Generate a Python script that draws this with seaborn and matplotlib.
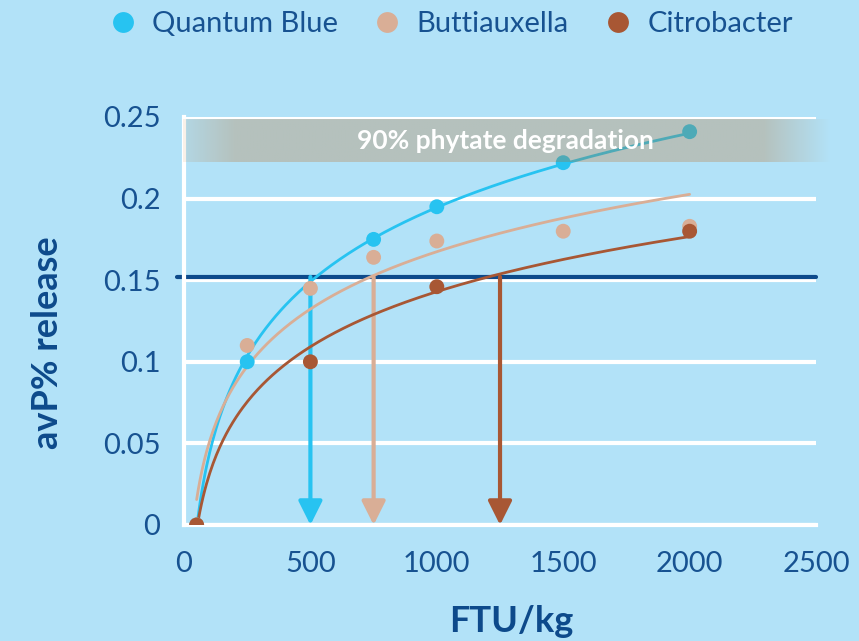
import numpy as np
import pandas as pd
import matplotlib
matplotlib.use('Agg')
import matplotlib.pyplot as plt
import seaborn as sns
from matplotlib.lines import Line2D

# ─── data ────────────────────────────────────────────────────────────────────
SERIES = ['Quantum Blue', 'Buttiauxella', 'Citrobacter']
QB_X = [50, 250, 750, 1000, 1500, 2000]
QB_Y = [0.0, 0.100, 0.175, 0.195, 0.222, 0.241]
BU_X = [50, 250, 500, 750, 1000, 1500, 2000]
BU_Y = [0.0, 0.110, 0.145, 0.164, 0.174, 0.180, 0.183]
CI_X = [50, 500, 1000, 2000]
CI_Y = [0.0, 0.100, 0.146, 0.180]
THRESHOLD = 0.152
CROSS_X = [500, 750, 1250]          # FTU/kg where each fit reaches the threshold
BAND_LO, BAND_HI = 0.2225, 0.2485
BAND_TEXT = '90% phytate degradation'
X_TICKS = [0, 500, 1000, 1500, 2000, 2500]
Y_TICKS = [0, 0.05, 0.1, 0.15, 0.2, 0.25]
Y_TICKLABELS = ['0', '0.05', '0.1', '0.15', '0.2', '0.25']

BG = '#b2e2f8'
DARK = '#0d4a8b'
TEXT = '#175291'
COLORS = {'Quantum Blue': '#27c3f1', 'Buttiauxella': '#d9ae96', 'Citrobacter': '#a85734'}

sns.set_theme(style='white')
plt.rcParams['font.family'] = ['Lato', 'DejaVu Sans']

points = pd.concat([
    pd.DataFrame({'x': QB_X, 'y': QB_Y, 'series': SERIES[0]}),
    pd.DataFrame({'x': BU_X, 'y': BU_Y, 'series': SERIES[1]}),
    pd.DataFrame({'x': CI_X, 'y': CI_Y, 'series': SERIES[2]}),
], ignore_index=True)

# logarithmic trend line per series
fits = []
for name, grp in points.groupby('series', sort=False):
    a, b = np.polyfit(np.log(grp['x']), grp['y'], 1)
    xs = np.linspace(grp['x'].min(), grp['x'].max(), 300)
    fits.append(pd.DataFrame({'x': xs, 'y': a * np.log(xs) + b, 'series': name}))
fits = pd.concat(fits, ignore_index=True)

fig = plt.figure(figsize=(8.59, 6.41), dpi=100, facecolor=BG)
ax = fig.add_axes([0.2142, 0.181, 0.7358, 0.6365])
ax.set_facecolor(BG)

sns.lineplot(data=fits, x='x', y='y', hue='series', palette=COLORS,
             linewidth=2, legend=False, ax=ax, zorder=3)
sns.scatterplot(data=points, x='x', y='y', hue='series', palette=COLORS,
                s=115, linewidth=0, legend=False, ax=ax, zorder=4)

ax.set_xlim(0, 2500)
ax.set_ylim(0, 0.25)
ax.set_xticks(X_TICKS)
ax.set_yticks(Y_TICKS)
ax.set_yticklabels(Y_TICKLABELS)
ax.grid(axis='y', color='white', linewidth=3, zorder=1)
ax.set_axisbelow(True)
for side in ['top', 'right']:
    ax.spines[side].set_visible(False)
for side in ['left', 'bottom']:
    ax.spines[side].set_color('white')
    ax.spines[side].set_linewidth(3)
ax.tick_params(axis='x', colors='white', length=9, width=3, pad=10,
               labelcolor=TEXT, labelsize=21)
ax.tick_params(axis='y', length=0, pad=17, labelcolor=TEXT, labelsize=21)

ax.set_xlabel('FTU/kg', fontsize=26, fontweight='bold', color=DARK)
ax.set_ylabel('avP% release', fontsize=26, fontweight='bold', color=DARK)
ax.xaxis.set_label_coords(0.517, -0.195)
ax.yaxis.set_label_coords(-0.19, 0.446)

# threshold line and drop arrows
ax.axhline(THRESHOLD, xmin=-0.011, xmax=1.0, color=DARK, linewidth=3,
           zorder=2.5, clip_on=False)
for name, cx in zip(SERIES, CROSS_X):
    ax.annotate('', xy=(cx, 0.0), xytext=(cx, THRESHOLD),
                arrowprops=dict(arrowstyle='-|>,head_length=1.2,head_width=0.6',
                                color=COLORS[name], lw=3, shrinkA=0, shrinkB=0),
                zorder=2.6)

# translucent band with faded ends
bx = np.linspace(-5, 2560, 500)
alpha = np.interp(bx, [-5, 200, 2290, 2560], [0.35, 1.0, 1.0, 0.0]) * 0.26
rgba = np.zeros((1, bx.size, 4))
rgba[..., 0], rgba[..., 1], rgba[..., 2] = 190 / 255, 100 / 255, 20 / 255
rgba[..., 3] = alpha
ax.imshow(rgba, extent=[bx[0], bx[-1], BAND_LO, BAND_HI], aspect='auto',
          interpolation='bilinear', zorder=5, clip_on=False)
ax.text(1270, (BAND_LO + BAND_HI) / 2, BAND_TEXT, color='white', fontsize=19,
        fontweight='bold', ha='center', va='center', zorder=6)
ax.set_xlim(0, 2500)
ax.set_ylim(0, 0.25)

handles = [Line2D([], [], marker='o', linestyle='', markersize=15,
                  markerfacecolor=COLORS[n], markeredgewidth=0) for n in SERIES]
leg = fig.legend(handles, SERIES, loc='center', bbox_to_anchor=(0.526, 0.962),
                 ncol=3, frameon=False, fontsize=21, handlelength=0.8,
                 handletextpad=0.6, columnspacing=1.3)
for t in leg.get_texts():
    t.set_color(TEXT)

fig.savefig('out.png', dpi=100, facecolor=BG)
